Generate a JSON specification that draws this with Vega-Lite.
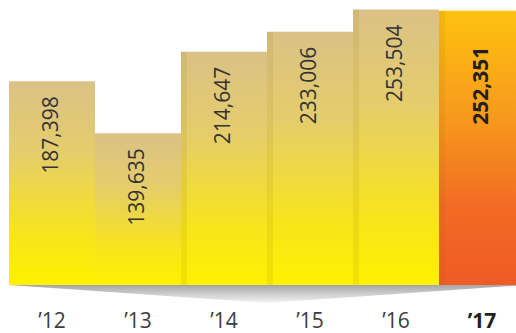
{
  "$schema": "https://vega.github.io/schema/vega-lite/v6.json",
  "autosize": "none",
  "width": 507,
  "height": 285,
  "padding": {"left": 9, "top": 0, "right": 0, "bottom": 48},
  "background": "white",
  "config": {"view": {"stroke": null}},
  "datasets": {
    "bars": [
      {"year": "’12", "value": 187398},
      {"year": "’13", "value": 139635},
      {"year": "’14", "value": 214647},
      {"year": "’15", "value": 233006},
      {"year": "’16", "value": 253504},
      {"year": "’17", "value": 252351}
    ],
    "shadow": [
      {"pos": 0, "depth": 0},
      {"pos": 3, "depth": -16500},
      {"pos": 6, "depth": 0}
    ]
  },
  "layer": [
    {
      "data": {"name": "shadow"},
      "mark": {
        "type": "area",
        "fill": {"gradient": "linear", "x1": 0, "y1": 0, "x2": 0, "y2": 1,
          "stops": [{"offset": 0, "color": "#a6a6a6"}, {"offset": 1, "color": "#f4f4f4"}]}
      },
      "encoding": {
        "x": {"field": "pos", "type": "quantitative", "scale": {"domain": [0, 6], "range": [0, 516], "nice": false}, "axis": null},
        "y": {"field": "depth", "type": "quantitative", "scale": {"domain": [0, 262200], "nice": false, "zero": false, "clamp": false}, "axis": null},
        "y2": {"datum": 0}
      }
    },
    {
      "data": {"name": "bars"},
      "layer": [
        {
          "mark": {"type": "bar", "clip": true},
          "encoding": {
            "x": {"field": "year", "type": "nominal", "sort": null,
              "scale": {"range": [0, 516], "paddingInner": 0, "paddingOuter": 0},
              "axis": {"title": null, "domain": false, "ticks": false, "labelAngle": 0,
                "labelBaseline": "alphabetic", "labelPadding": 42, "labelFont": "Open Sans", "labelFontSize": 21,
                "labelColor": {"condition": {"test": "datum.value == '’17'", "value": "#231f20"}, "value": "#3d3d3d"},
                "labelFontWeight": {"condition": {"test": "datum.value == '’17'", "value": "bold"}, "value": "normal"}}},
            "y": {"field": "value", "type": "quantitative", "scale": {"domain": [0, 262200], "nice": false}, "axis": null},
            "fill": {
              "condition": {"test": "datum.year == '’17'", "value": {"gradient": "linear", "x1": 0, "y1": 0, "x2": 0, "y2": 1,
                "stops": [{"offset": 0, "color": "#fec20e"}, {"offset": 0.4, "color": "#f7981d"}, {"offset": 0.72, "color": "#f26a24"}, {"offset": 1, "color": "#f05a25"}]}},
              "value": {"gradient": "linear", "x1": 0, "y1": 0, "x2": 0, "y2": 1,
                "stops": [{"offset": 0, "color": "#dac186"}, {"offset": 0.35, "color": "#e5cd6b"}, {"offset": 0.75, "color": "#f8e41c"}, {"offset": 1, "color": "#fff100"}]}
            }
          }
        },
        {
          "transform": [{"filter": "datum.year != '’12' && datum.year != '’13'"}],
          "mark": {"type": "rule", "strokeWidth": 6, "xOffset": 3, "color": "#8a6a00", "opacity": 0.1},
          "encoding": {
            "x": {"field": "year", "type": "nominal", "sort": null, "bandPosition": 0},
            "y": {"field": "value", "type": "quantitative"},
            "y2": {"datum": 0}
          }
        },
        {
          "transform": [{"filter": "datum.year != '’17'"}],
          "mark": {"type": "text", "angle": 270, "align": "right", "baseline": "middle", "dx": -15,
            "font": "Open Sans", "fontSize": 21, "color": "#333333"},
          "encoding": {
            "x": {"field": "year", "type": "nominal", "sort": null},
            "y": {"field": "value", "type": "quantitative"},
            "text": {"field": "value", "type": "quantitative", "format": ","}
          }
        },
        {
          "transform": [{"filter": "datum.year == '’17'"}],
          "mark": {"type": "text", "angle": 270, "align": "right", "baseline": "middle", "dx": -36,
            "font": "Open Sans", "fontSize": 21, "fontWeight": "bold", "color": "#231f20"},
          "encoding": {
            "x": {"field": "year", "type": "nominal", "sort": null},
            "y": {"field": "value", "type": "quantitative"},
            "text": {"field": "value", "type": "quantitative", "format": ","}
          }
        }
      ]
    }
  ],
  "resolve": {"scale": {"x": "independent"}}
}
